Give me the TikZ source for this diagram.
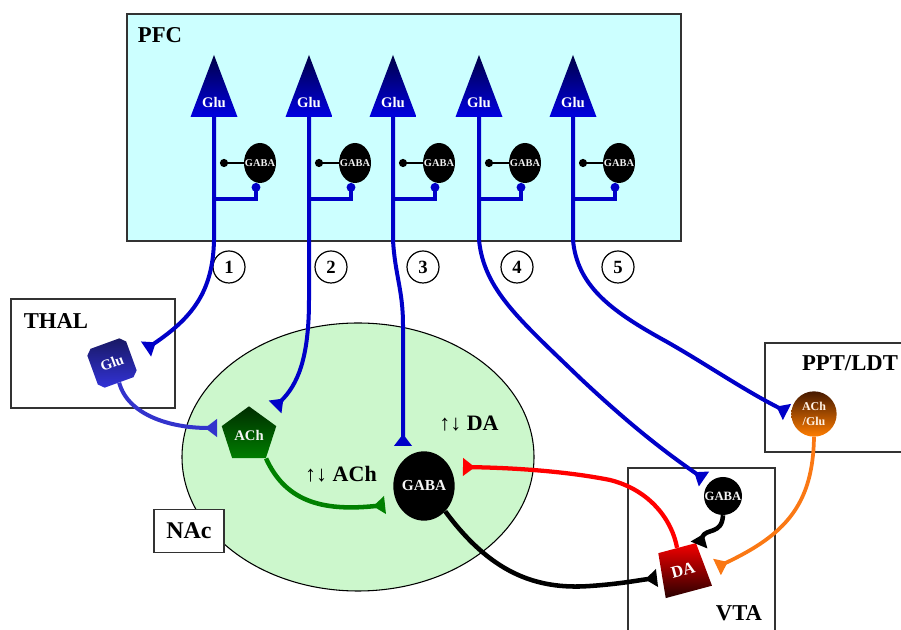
\documentclass[tikz,border=0pt]{standalone}
\usepackage{fontspec}
\setmainfont{Liberation Serif}
\usetikzlibrary{arrows.meta,shapes.geometric,shapes.misc,calc}
\definecolor{axblue}{RGB}{0,0,200}
\definecolor{thblue}{RGB}{51,51,204}
\definecolor{glutop}{RGB}{0,0,70}
\definecolor{glubot}{RGB}{0,0,225}
\definecolor{pfcfill}{RGB}{204,255,255}
\definecolor{nacfill}{RGB}{204,247,204}
\definecolor{achtop}{RGB}{0,45,0}
\definecolor{achbot}{RGB}{0,125,0}
\definecolor{grline}{RGB}{0,128,0}
\definecolor{orline}{RGB}{250,120,20}
\definecolor{ortop}{RGB}{70,25,0}
\definecolor{orbot}{RGB}{255,125,0}
\definecolor{datop}{RGB}{245,0,0}
\definecolor{dabot}{RGB}{40,0,0}
\definecolor{tgtop}{RGB}{25,25,100}
\definecolor{tgbot}{RGB}{50,50,215}
\definecolor{boxline}{RGB}{50,50,50}
\newcommand\zb[1]{\makebox[0pt]{#1}}
\begin{document}
\begin{tikzpicture}[x=0.75pt,y=-0.75pt,
  termtip/.style={-{Triangle[reversed,width=13pt,length=9pt]}},
  axon/.style={draw=axblue,line width=3pt,termtip},
  branch/.style={draw=axblue,line width=2.4pt,-{Circle[length=6.5pt]}},
  inh/.style={draw=black,line width=1.9pt,-{Circle[length=6pt]}},
  thline/.style={draw=thblue,line width=3pt,termtip},
  grl/.style={draw=grline,line width=3.4pt,termtip},
  redl/.style={draw=red,line width=3.2pt,termtip},
  blkl/.style={draw=black,line width=3.4pt,termtip},
  orl/.style={draw=orline,line width=2.8pt,termtip},
  regbox/.style={draw=boxline,line width=1pt},
  title/.style={font=\bfseries\fontsize{17}{20}\selectfont,inner sep=0},
  glut/.style={text=white,font=\bfseries\fontsize{11}{12}\selectfont,inner sep=0},
  gabas/.style={ellipse,fill=black,minimum width=24pt,minimum height=30pt,inner sep=0,
    text=white!88!gray,font=\bfseries\fontsize{7.8}{8}\selectfont},
  numc/.style={circle,draw=black,line width=0.9pt,minimum size=24pt,inner sep=0,
    font=\bfseries\fontsize{14}{14}\selectfont},
  lbl/.style={font=\bfseries\fontsize{16.5}{18}\selectfont,inner sep=0}
]
\useasboundingbox (0,0) rectangle (901,630);

% regions
\draw[regbox,fill=pfcfill] (127,14) rectangle (681,241);
\node[title] (pfc) at (160,35) {PFC};
\draw[regbox] (11,299) rectangle (175,408);
\node[title] (thal) at (56,321) {THAL};
\draw[regbox] (765,343) rectangle (912,452);
\node[title] (ppt) at (850,363) {PPT/LDT};
\draw[regbox] (628,468) rectangle (775,645);
\node[title] (vta) at (739,613) {VTA};
\node[ellipse,draw=black,line width=0.8pt,fill=nacfill,minimum width=264pt,minimum height=201pt,inner sep=0] (nac) at (358,457) {};
\node[draw=boxline,line width=1pt,fill=white,minimum width=52.5pt,minimum height=32pt,
  font=\bfseries\fontsize{18}{20}\selectfont] (naclbl) at (189,531) {NAc};

% PFC neurons
\foreach \i/\X in {1/214,2/309,3/393,4/479,5/573}{
  \shade[top color=glutop,bottom color=glubot] (\X,55) -- (\X-23.5,117) -- (\X+23.5,117) -- cycle;
  \node[glut] (glu\i) at (\X,103) {Glu};
  \coordinate (b\i) at (\X,117);
  \coordinate (j\i) at (\X,199);
  \node[gabas] (ga\i) at (\X+46,163) {\zb{GABA}};
  \coordinate (d\i) at (\X+6,163);
  \coordinate (e\i) at (\X+42,183);
  \draw[inh] (ga\i.west) -- (d\i);
  \draw[branch] (j\i) -| (e\i);
}

% numbers
\node[numc] (n1) at (229,267) {1};
\node[numc] (n2) at (331,267) {2};
\node[numc] (n3) at (423,267) {3};
\node[numc] (n4) at (517,267) {4};
\node[numc] (n5) at (618,267) {5};

% cells
\node[chamfered rectangle,chamfered rectangle xsep=2pt,chamfered rectangle ysep=2pt,
  minimum width=31pt,minimum height=31pt,inner sep=0,rotate=20,
  top color=tgtop,bottom color=tgbot,text=white,font=\bfseries\fontsize{11}{12}\selectfont] (tg) at (112,363) {Glu};
\node[regular polygon,regular polygon sides=5,minimum size=43pt,inner sep=0,
  top color=achtop,bottom color=achbot,text=white!92!gray,font=\bfseries\fontsize{11}{12}\selectfont] (ach) at (249,435) {ACh};
\node[ellipse,fill=black,minimum width=46pt,minimum height=52pt,inner sep=0,
  text=white!92!gray,font=\bfseries\fontsize{11.5}{12}\selectfont] (gn) at (424,486) {\zb{GABA}};
\node[circle,fill=black,minimum size=28.5pt,inner sep=0,
  text=white!92!gray,font=\bfseries\fontsize{9.5}{10}\selectfont] (vg) at (723,496) {\zb{GABA}};
\node[circle,top color=ortop,bottom color=orbot,minimum size=34pt,inner sep=0,align=center,
  text=white!90!orange,font=\bfseries\fontsize{9}{11}\selectfont] (acg) at (814,414) {ACh\\/Glu};
\node[trapezium,trapezium left angle=76,trapezium right angle=76,trapezium stretches=true,
  minimum width=36pt,minimum height=34pt,inner sep=0,rotate=15,
  top color=datop,bottom color=dabot,text=white,font=\bfseries\fontsize{12.5}{13}\selectfont] (da) at (683,570) {DA};

\node[lbl] (achlbl) at (341,474) {↑↓ ACh};
\node[lbl] (dalbl) at (469,424) {↑↓ DA};

% terminal points
\coordinate (t1) at (146,349);
\coordinate (t2) at (275,407);
\coordinate (t3) at (403,446);
\coordinate (t4) at (704,479);
\coordinate (t5) at (787,412);
\coordinate (t6) at (217,428);
\coordinate (t7) at (385,505);
\coordinate (t8) at (463,467);
\coordinate (t9) at (657,578);
\coordinate (t10) at (717,567);
\coordinate (t11) at (699,545);

% PFC axons
\draw[axon] (b1) -- (214,240) .. controls (213,292) and (192,318) .. (t1);
\draw[axon] (b2) -- (309,300) .. controls (309,360) and (297,385) .. (t2);
\draw[axon] (b3) -- (393,240) .. controls (395,275) and (403,290) .. (403,325) -- (t3);
\draw[axon] (b4) -- (479,240) .. controls (484,290) and (520,320) .. (580,378) .. controls (630,425) and (665,452) .. (t4);
\draw[axon] (b5) -- (573,240) .. controls (577,285) and (610,310) .. (660,338) .. controls (700,360) and (740,388) .. (t5);

% other connectors
\draw[thline] (tg.south) .. controls (128,415) and (170,428) .. (t6);
\draw[grl] (ach.corner 4) .. controls (285,500) and (320,512) .. (t7);
\draw[redl] (da.north) .. controls (672,520) and (650,490) .. (610,480) .. controls (570,472) and (520,468) .. (t8);
\draw[blkl] (gn.-50) .. controls (490,572) and (535,590) .. (590,586) .. controls (620,584) and (640,580) .. (t9);
\draw[orl] (acg.south) .. controls (813,505) and (785,535) .. (t10);
\draw[blkl] (vg.south) .. controls (722,535) and (706,528) .. (t11);
\end{tikzpicture}
\end{document}
